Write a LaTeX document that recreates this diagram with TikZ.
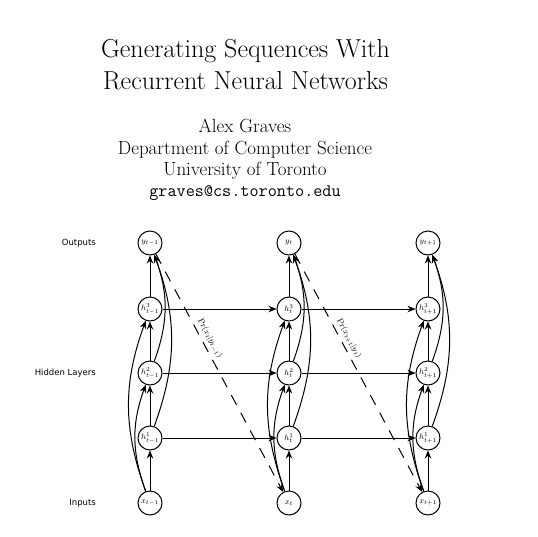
\documentclass[tikz,border=0pt]{standalone}
\usepackage{fontspec}
\newfontfamily\lblfont{DejaVu Sans}
\usetikzlibrary{arrows.meta}
\begin{document}
\begin{tikzpicture}[x=1pt,y=-1pt,
  unit/.style={circle,draw,line width=1pt,minimum size=24pt,inner sep=0pt,font=\fontsize{8.5}{9}\selectfont},
  conn/.style={line width=1pt,-{Stealth[length=8pt,width=6.5pt]}},
  dconn/.style={conn,dash pattern=on 11pt off 9pt},
  side/.style={anchor=east,inner sep=0pt,font=\lblfont\fontsize{8.5}{10}\selectfont},
  prlbl/.style={sloped,above,font=\fontsize{8.5}{10}\selectfont}
]
\useasboundingbox (0,0) rectangle (538,536);
\node[align=center,font=\fontsize{26}{32}\selectfont] (title) at (245.5,65) {Generating Sequences With\\Recurrent Neural Networks};
\node[align=center,font=\fontsize{19}{21.3}\selectfont] (author) at (245,160) {Alex Graves\\Department of Computer Science\\University of Toronto\\{\fontsize{17.7}{21.3}\selectfont\ttfamily graves@cs.toronto.edu}};
\node[side] (lout) at (96,243) {Outputs};
\node[side] (lhid) at (96,373) {Hidden Layers};
\node[side] (lin) at (96,503) {Inputs};
\foreach \c/\x/\s in {a/150/{t-1}, b/289/t, c/428/{t+1}}{
  \node[unit] (y\c) at (\x,243) {$y_{\s}$};
  \node[unit] (h3\c) at (\x,309) {$h^3_{\s}$};
  \node[unit] (h2\c) at (\x,373) {$h^2_{\s}$};
  \node[unit] (h1\c) at (\x,438) {$h^1_{\s}$};
  \node[unit] (x\c) at (\x,503) {$x_{\s}$};
  \draw[conn] (x\c) -- (h1\c);
  \draw[conn] (h1\c) -- (h2\c);
  \draw[conn] (h2\c) -- (h3\c);
  \draw[conn] (h3\c) -- (y\c);
  \draw[conn] (x\c) to[out=110,in=250] (h2\c);
  \draw[conn] (x\c) to[out=110,in=250] (h3\c);
  \draw[conn] (h1\c) to[out=70,in=-70] (y\c);
  \draw[conn] (h2\c) to[out=70,in=-70] (y\c);
}
\foreach \k in {1,2,3}{
  \draw[conn] (h\k a) -- (h\k b);
  \draw[conn] (h\k b) -- (h\k c);
}
\draw[dconn] (ya) -- node[prlbl,pos=0.37] {$\Pr(x_t|y_{t-1})$} (xb);
\draw[dconn] (yb) -- node[prlbl,pos=0.37] {$\Pr(x_{t+1}|y_t)$} (xc);
\end{tikzpicture}
\end{document}
